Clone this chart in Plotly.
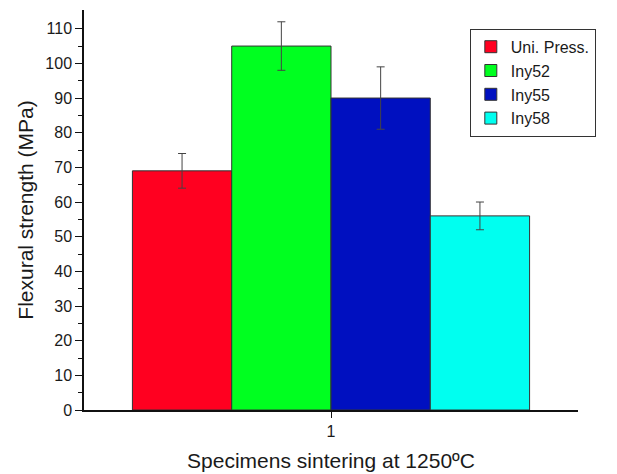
import plotly.graph_objects as go

# Flexural strength of specimens sintered at 1250 ºC
groups = ["Uni. Press.", "Iny52", "Iny55", "Iny58"]
strength = [69, 105, 90, 56]
strength_err = [5, 7, 9, 4]
colors = ["#ff0020", "#00ff20", "#0010c0", "#00fff0"]
x_position = [1]

fig = go.Figure()
for name, val, err, col in zip(groups, strength, strength_err, colors):
    fig.add_trace(go.Bar(
        x=x_position, y=[val], name=name,
        marker=dict(color=col, line=dict(color="#333333", width=1)),
        error_y=dict(type="data", array=[err], color="#444444",
                     thickness=1, width=4),
    ))

font = "Liberation Sans, Arial, sans-serif"
fig.update_layout(
    width=617, height=474,
    margin=dict(l=84, r=39, t=10, b=64),
    paper_bgcolor="white", plot_bgcolor="white",
    barmode="group", bargap=0.196, bargroupgap=0,
    font=dict(family=font, size=16, color="#1a1a1a"),
    legend=dict(
        x=0.781, y=0.953, xanchor="left", yanchor="top",
        bordercolor="#333333", borderwidth=1, bgcolor="white",
        font=dict(size=16), tracegroupgap=0, itemwidth=30,
    ),
    showlegend=True,
)
fig.update_xaxes(
    range=[0.5, 1.5], tickvals=[1], ticktext=["1"],
    showline=True, linecolor="#111111", linewidth=1.5,
    ticks="outside", ticklen=6, tickcolor="#111111",
    tickfont=dict(size=16), automargin=False,
    showgrid=False, zeroline=False,
    title=dict(text="Specimens sintering at 1250ºC", font=dict(size=21), standoff=14),
)
fig.update_yaxes(
    range=[0, 115.4], tickvals=list(range(0, 111, 10)),
    showline=True, linecolor="#111111", linewidth=1.5,
    ticks="outside", ticklen=7, tickcolor="#111111",
    tickfont=dict(size=16), automargin=False,
    minor=dict(tickvals=list(range(5, 111, 10)), ticks="outside", ticklen=4, tickcolor="#111111"),
    showgrid=False, zeroline=False,
    title=dict(text="Flexural strength (MPa)", font=dict(size=21), standoff=6),
)

fig.write_html("out.html")
